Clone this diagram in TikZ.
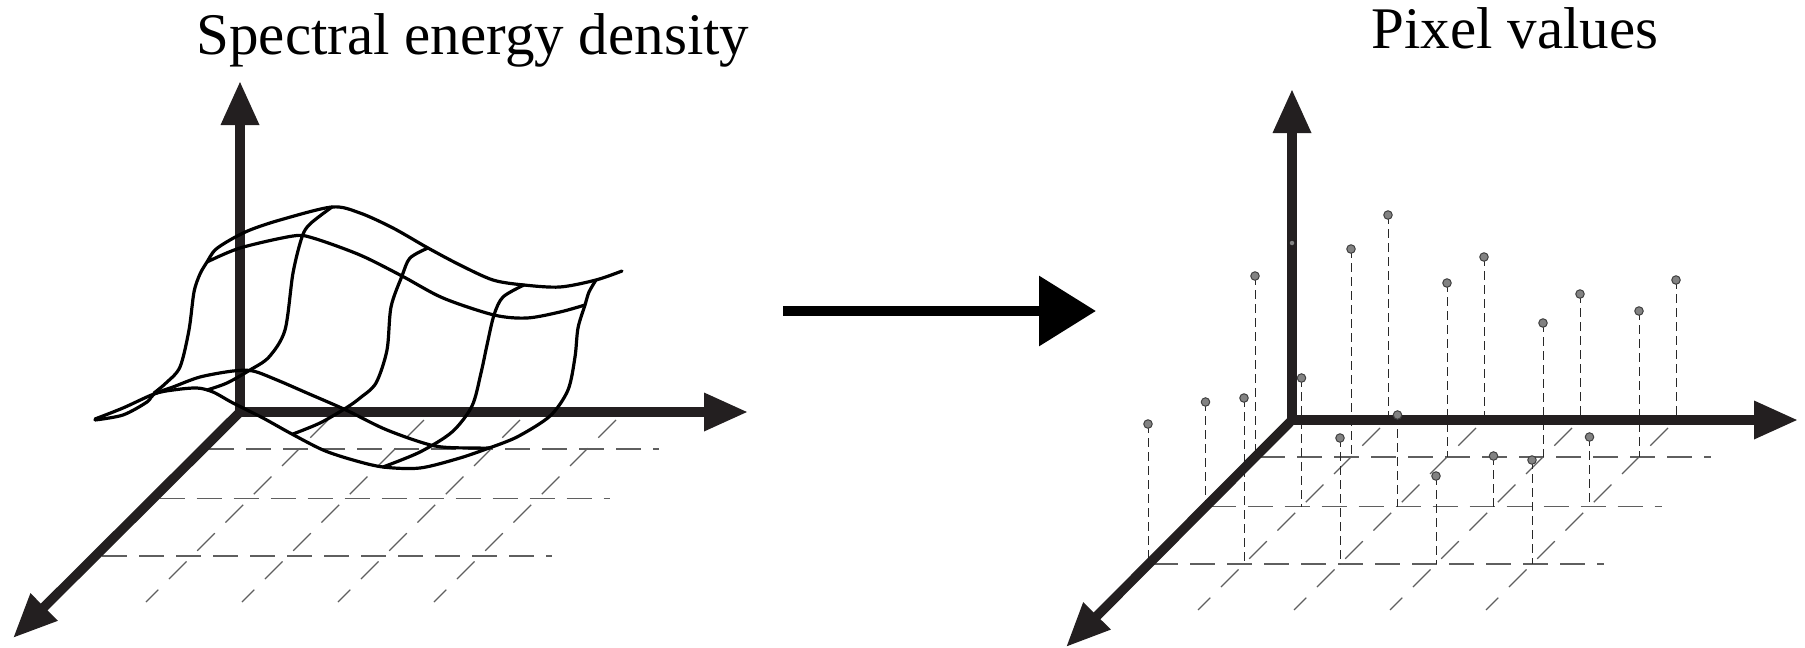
\documentclass[tikz,border=0pt]{standalone}
\usepackage{fontspec}
\setmainfont{Liberation Serif}
\usetikzlibrary{arrows.meta}
\definecolor{axisc}{RGB}{35,31,32}
\definecolor{gridc}{RGB}{95,95,95}
\definecolor{dotc}{RGB}{130,130,130}
\definecolor{dropc}{RGB}{40,40,40}
\begin{document}
\begin{tikzpicture}[x=1pt,y=-1pt,
  title/.style={font=\fontsize{59}{60}\selectfont, anchor=base, inner sep=0pt},
  axis/.style={line width=9.5pt, draw=axisc, line join=miter},
  floorh/.style={draw=gridc, line width=1.3pt, dash pattern=on 25pt off 12pt},
  floord/.style={draw=gridc, line width=1.1pt, dash pattern=on 25pt off 15pt},
  surf/.style={line width=3.2pt, line cap=round, line join=round},
  drop/.style={draw=dropc, line width=1pt, dash pattern=on 9pt off 5pt},
  dot/.style={circle, fill=dotc, draw=black!75, line width=1pt, minimum size=8.5pt, inner sep=0pt},
  smalldot/.style={circle, fill=dotc, minimum size=4.5pt, inner sep=0pt},
  bigarrow/.style={line width=10pt, draw=black, -{Triangle[length=57pt,width=68pt]}}
]
\useasboundingbox (0,0) rectangle (1805,648);

% titles
\node[title] (t1) at (473,54) {Spectral energy density};
\node[title] (t2) at (1515,48) {Pixel values};

% ---------------- left panel ----------------
\coordinate (O1) at (240,412);
\coordinate (Y1) at (240,81);
\coordinate (X1) at (748,412);
\coordinate (Z1) at (13,638);

\begin{scope}[shift={(240,412)}]
  \foreach \d in {37,86.5,144} \draw[floorh] ({6-\d},\d) -- ({456-\d},\d);
  \foreach \c in {1,...,4} \draw[floord] ({96*\c-8},8) -- ({96*\c-190},190);
\end{scope}

\draw[axis, {Triangle[length=44pt,width=36pt]}-{Triangle[length=44pt,width=36pt]}] (Y1) -- (O1) -- (X1);
\draw[axis, -{Triangle[length=44pt,width=36pt]}] (O1) -- (Z1);

% surface
\draw[surf] plot[smooth] coordinates {(154,393) (166,383) (180,367) (189,330) (194,292) (200,274) (207,262) (215,250) (230,240) (250,230) (280,220) (332,207) (360,213) (393,228) (428,248) (460,265) (493,280) (524,285) (560,287) (596,280) (622,271)};
\draw[surf] plot[smooth] coordinates {(207,262) (240,248) (293,236) (313,238) (360,255) (402,276) (443,298) (494,315) (527,318) (560,312) (585,305)};
\draw[surf] plot[smooth] coordinates {(332,207) (310,224) (302,237) (293,273) (285,330) (269,357) (250,370) (227,383) (207,390)};
\draw[surf] plot[smooth] coordinates {(428,248) (410,258) (402,276) (391,307) (387,350) (376,383) (360,398) (346,408) (320,423) (293,434)};
\draw[surf] plot[smooth] coordinates {(524,285) (503,297) (494,315) (487,345) (481,373) (472,406) (452,432) (420,452) (383,467)};
\draw[surf] plot[smooth] coordinates {(596,280) (589,292) (585,305) (578,328) (575,357) (568,390) (550,416) (517,437) (489,448)};
\draw[surf] plot[smooth] coordinates {(95,420) (123,415) (147,402) (154,394) (173,387) (200,377) (233,371) (253,371) (277,380) (307,393) (346,410) (387,430) (435,446) (477,448) (489,448)};
\draw[surf] plot[smooth] coordinates {(95,419) (123,408) (154,394) (173,390) (197,388) (213,392) (233,403) (263,418) (290,433) (323,450) (353,460) (383,467) (420,468) (460,458) (489,448)};

% ---------------- middle arrow ----------------
\coordinate (A1) at (783,311);
\coordinate (A2) at (1096,311);
\draw[bigarrow] (A1) -- (A2);

% ---------------- right panel ----------------
\coordinate (O2) at (1292,420);
\coordinate (Y2) at (1292,89);
\coordinate (X2) at (1798,420);
\coordinate (Z2) at (1066,647);

\begin{scope}[shift={(1292,420)}]
  \foreach \d in {37,86.5,144} \draw[floorh] ({5-\d},\d) -- ({456-\d},\d);
  \foreach \c in {1,...,4} \draw[floord] ({96*\c-8},8) -- ({96*\c-190},190);
  \foreach \c/\r/\d/\y in {1/0/0/215, 2/0/0/257, 3/0/0/294, 4/0/0/280,
      0/1/37/276, 1/1/37/249, 2/1/37/283, 3/1/37/323, 4/1/37/311,
      0/2/86.5/402, 1/2/86.5/378, 2/2/86.5/415, 3/2/86.5/456, 4/2/86.5/437,
      0/3/144/424, 1/3/144/398, 2/3/144/438, 3/3/144/476, 4/3/144/460} {
    \coordinate (q\c\r) at ({96*\c-\d},{\y-420});
    \coordinate (f\c\r) at ({96*\c-\d},\d);
    \draw[drop] (q\c\r) -- (f\c\r);
  }
\end{scope}

\draw[axis, {Triangle[length=44pt,width=36pt]}-{Triangle[length=44pt,width=36pt]}] (Y2) -- (O2) -- (X2);
\draw[axis, -{Triangle[length=44pt,width=36pt]}] (O2) -- (Z2);

\foreach \c/\r in {1/0,2/0,3/0,4/0,0/1,1/1,2/1,3/1,4/1,0/2,1/2,2/2,3/2,4/2,0/3,1/3,2/3,3/3,4/3}
  \node[dot] (p\c\r) at (q\c\r) {};
\node[smalldot] (p00) at (1292,243) {};

\end{tikzpicture}
\end{document}
